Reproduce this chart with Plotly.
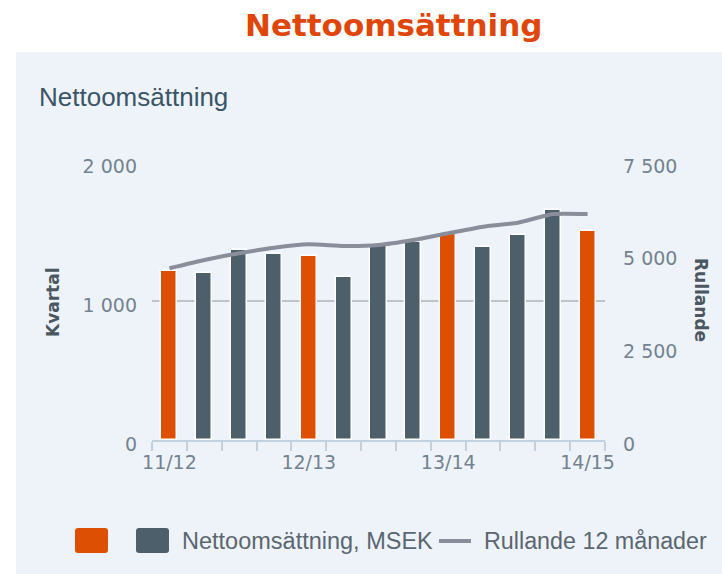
import plotly.graph_objects as go

# ---- data ----
quarters = list(range(13))
tick_positions = [0, 4, 8, 12]
tick_labels = ["11/12", "12/13", "13/14", "14/15"]
net_sales = [1217, 1200, 1368, 1337, 1323, 1174, 1400, 1426, 1481, 1385, 1474, 1656, 1507]
rolling_12m = [4632, 4856, 5037, 5188, 5280, 5234, 5261, 5396, 5577, 5755, 5862, 6097, 6097]
left_ticks = [0, 1000, 2000]
left_tick_labels = ["0", "1 000", "2 000"]
right_ticks = [0, 2500, 5000, 7500]
right_tick_labels = ["0", "2 500", "5 000", "7 500"]
highlight_every = 4

W, H = 722, 574
L, R, T, B = 152, 117, 162, 134
PW, PH = W - L - R, H - T - B

def px(x):
    return (x - L) / PW

def py(y):
    return (H - B - y) / PH

PANEL = "#EEF3FA"
ORANGE = "#DD5004"
GRAY = "#4D5F6B"
LINEC = "#898E9A"
TICKC = "#738290"

bar_colors = [ORANGE if i % highlight_every == 0 else GRAY for i in quarters]

fig = go.Figure()
fig.add_trace(go.Bar(
    x=quarters, y=net_sales, marker=dict(color=bar_colors, line=dict(color="white", width=1.5)),
    width=0.46, showlegend=False, hoverinfo="y", yaxis="y",
))
fig.add_trace(go.Scatter(
    x=quarters, y=rolling_12m, mode="lines", yaxis="y2",
    line=dict(color=LINEC, width=4, shape="spline", smoothing=0.5),
    showlegend=False,
))

def rrect(x0, y0, x1, y1, r=3):
    X = lambda v: px(v)
    Y = lambda v: py(v)
    p = (f"M {X(x0+r)},{Y(y0)} L {X(x1-r)},{Y(y0)} Q {X(x1)},{Y(y0)} {X(x1)},{Y(y0+r)} "
         f"L {X(x1)},{Y(y1-r)} Q {X(x1)},{Y(y1)} {X(x1-r)},{Y(y1)} "
         f"L {X(x0+r)},{Y(y1)} Q {X(x0)},{Y(y1)} {X(x0)},{Y(y1-r)} "
         f"L {X(x0)},{Y(y0+r)} Q {X(x0)},{Y(y0)} {X(x0+r)},{Y(y0)} Z")
    return p

shapes = [
    dict(type="rect", xref="paper", yref="paper", x0=px(0), x1=px(W), y0=py(0), y1=py(52),
         fillcolor="white", line=dict(width=0), layer="below"),
    dict(type="rect", xref="paper", yref="paper", x0=px(0), x1=px(16), y0=py(0), y1=py(H),
         fillcolor="white", line=dict(width=0), layer="below"),
    dict(type="path", xref="paper", yref="paper", path=rrect(75, 528, 108, 553),
         fillcolor=ORANGE, line=dict(width=0)),
    dict(type="path", xref="paper", yref="paper", path=rrect(136, 528, 169, 553),
         fillcolor=GRAY, line=dict(width=0)),
    dict(type="line", xref="paper", yref="paper", x0=px(439), x1=px(471), y0=py(541), y1=py(541),
         line=dict(color=LINEC, width=4)),
]

annotations = [
    dict(text="<b>Nettoomsättning</b>", x=px(393), y=py(25), xref="paper", yref="paper",
         xanchor="center", yanchor="middle", showarrow=False,
         font=dict(family="DejaVu Sans", size=31, color="#E0460A")),
    dict(text="Nettoomsättning", x=px(37), y=py(97), xref="paper", yref="paper",
         xanchor="left", yanchor="middle", showarrow=False,
         font=dict(family="Liberation Sans", size=26, color="#3A5566")),
    dict(text="<b>Kvartal</b>", x=px(53), y=py(302), xref="paper", yref="paper",
         xanchor="center", yanchor="middle", showarrow=False, textangle=-90,
         font=dict(family="DejaVu Sans", size=17, color="#4A5660")),
    dict(text="<b>Rullande</b>", x=px(701), y=py(300), xref="paper", yref="paper",
         xanchor="center", yanchor="middle", showarrow=False, textangle=90,
         font=dict(family="DejaVu Sans", size=17, color="#4A5660")),
    dict(text="Nettoomsättning, MSEK", x=px(180), y=py(541), xref="paper", yref="paper",
         xanchor="left", yanchor="middle", showarrow=False,
         font=dict(family="Liberation Sans", size=23.5, color="#5A6670")),
    dict(text="Rullande 12 månader", x=px(482), y=py(541), xref="paper", yref="paper",
         xanchor="left", yanchor="middle", showarrow=False,
         font=dict(family="Liberation Sans", size=23.3, color="#5A6670")),
]

fig.update_layout(
    width=W, height=H, margin=dict(l=L, r=R, t=T, b=B, pad=0),
    paper_bgcolor=PANEL, plot_bgcolor=PANEL,
    shapes=shapes, annotations=annotations, showlegend=False, bargap=0,
    xaxis=dict(
        range=[-0.5, 12.5], tickvals=tick_positions, ticktext=tick_labels, ticks="",
        showgrid=False, zeroline=False, showline=True, linecolor="#C3D0DD", linewidth=2,
        minor=dict(ticks="outside", tick0=-0.5, dtick=1, ticklen=9, tickcolor="#C3D0DD",
                   tickwidth=2, showgrid=False),
        tickfont=dict(family="DejaVu Sans", size=19, color=TICKC), ticklabelstandoff=4,
    ),
    yaxis=dict(
        range=[0, 2000], tickvals=left_ticks, ticktext=left_tick_labels,
        showgrid=True, gridcolor="#BFC2C6", gridwidth=1.5, zeroline=False, showline=False,
        tickfont=dict(family="DejaVu Sans", size=19, color=TICKC), ticklabelstandoff=14,
        ticklabelshift=4,
    ),
    yaxis2=dict(
        range=[0, 7500], tickvals=right_ticks, ticktext=right_tick_labels,
        overlaying="y", side="right", showgrid=False, zeroline=False, showline=False,
        tickfont=dict(family="DejaVu Sans", size=19, color=TICKC), ticklabelstandoff=17,
        ticklabelshift=4,
    ),
)

fig.write_html("out.html", post_script="document.body.style.margin='0px';",
               config={"displayModeBar": False})
